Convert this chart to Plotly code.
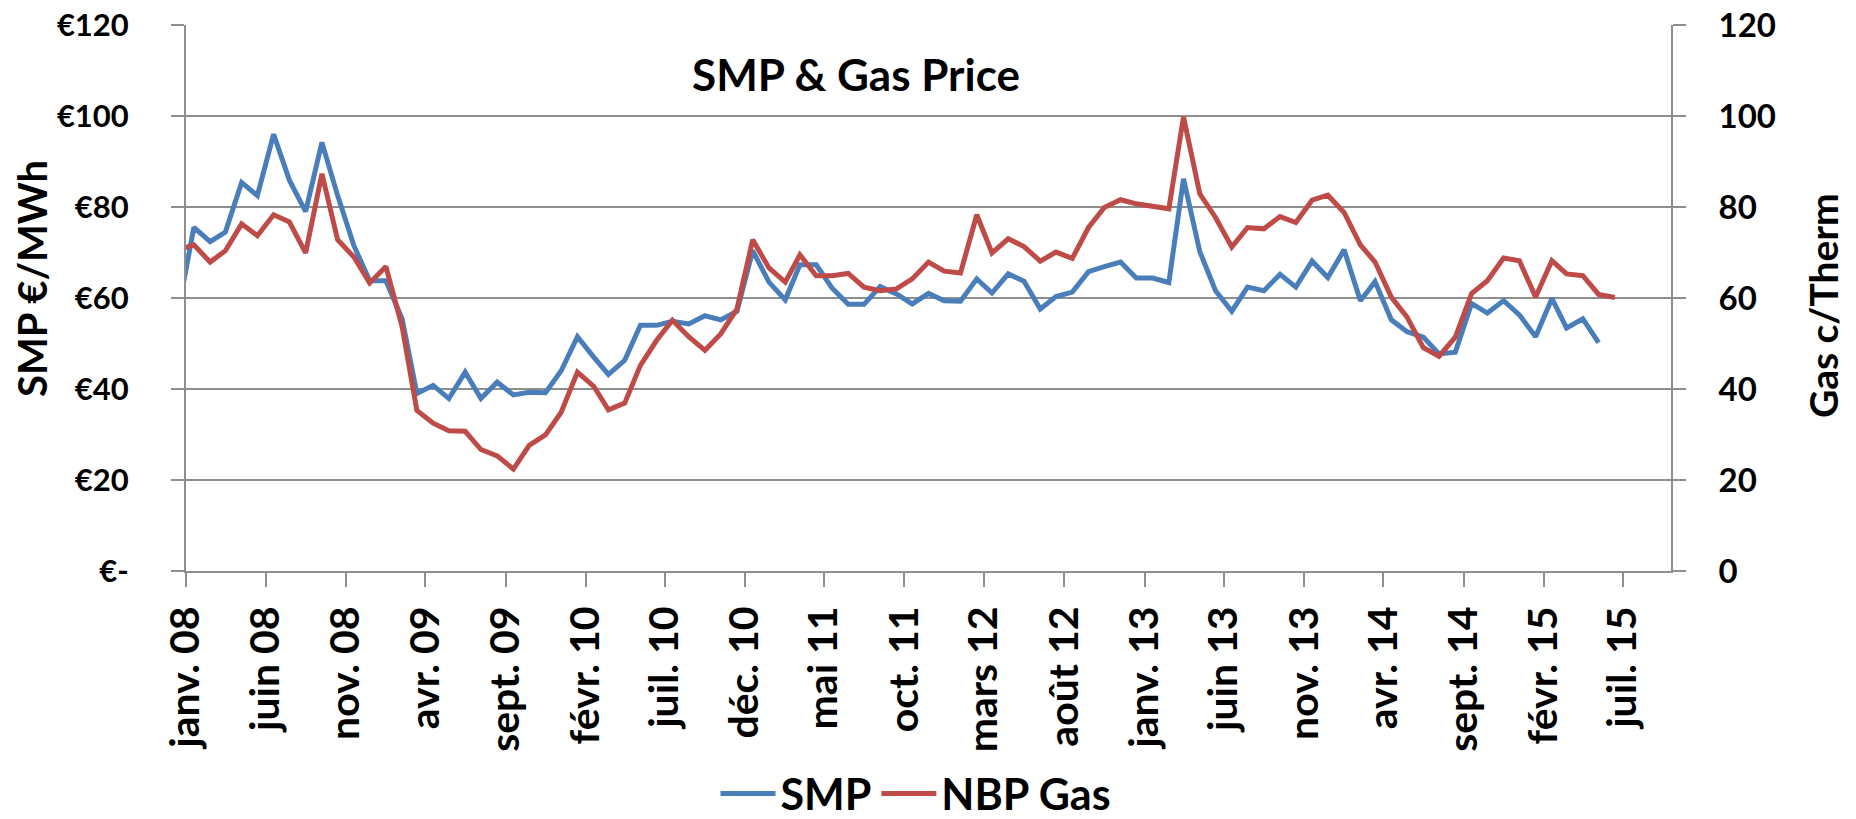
import pandas as pd
import plotly.graph_objects as go

# Monthly data, Dec 2007 .. Jun 2015 (values plotted mid-month)
months = pd.date_range("2007-12-01", periods=91, freq="MS") + pd.Timedelta(days=15)

smp = [56.5,
       75.5, 72.4, 74.5, 85.4, 82.5, 96.0, 85.9, 79.0, 94.2, 82.5, 71.5, 63.8,
       63.8, 55.4, 39.0, 40.8, 37.9, 43.7, 37.9, 41.5, 38.7, 39.3, 39.2, 44.0,
       51.5, 47.0, 43.2, 46.3, 54.0, 54.0, 54.9, 54.3, 56.1, 55.2, 57.1, 70.4,
       63.5, 59.6, 67.3, 67.3, 62.2, 58.6, 58.6, 62.5, 60.9, 58.7, 61.0, 59.4,
       59.3, 64.2, 61.1, 65.3, 63.7, 57.6, 60.3, 61.3, 65.8, 66.9, 67.9, 64.4,
       64.4, 63.4, 86.2, 70.2, 61.6, 57.1, 62.4, 61.6, 65.2, 62.4, 68.1, 64.5,
       70.6, 59.4, 63.6, 55.2, 52.6, 51.4, 47.7, 48.1, 58.8, 56.7, 59.4, 56.3,
       51.5, 59.9, 53.4, 55.4, 50.2, None]

nbp_gas = [70.5,
           71.7, 67.9, 70.4, 76.3, 73.7, 78.3, 76.7, 69.9, 87.3, 72.8, 69.0, 63.3,
           66.9, 53.6, 35.3, 32.5, 30.8, 30.7, 26.7, 25.3, 22.4, 27.6, 29.9, 34.9,
           43.7, 40.6, 35.4, 36.9, 45.2, 50.7, 55.1, 51.5, 48.5, 52.1, 57.6, 72.8,
           66.6, 63.5, 69.5, 64.9, 64.9, 65.4, 62.4, 61.6, 62.0, 64.2, 67.9, 65.9,
           65.5, 78.3, 69.9, 73.0, 71.3, 68.1, 70.1, 68.7, 75.5, 79.9, 81.6, 80.7,
           80.2, 79.6, 99.8, 82.9, 77.7, 71.2, 75.5, 75.2, 77.9, 76.6, 81.5, 82.6,
           78.8, 71.7, 67.9, 60.2, 55.8, 49.1, 47.2, 51.4, 61.0, 63.8, 68.8, 68.2,
           60.2, 68.2, 65.3, 64.9, 60.8, 60.1]

tick_dates = pd.date_range("2008-01-01", periods=19, freq="5MS")
tick_labels = ["janv. 08", "juin 08", "nov. 08", "avr. 09", "sept. 09", "févr. 10",
               "juil. 10", "déc. 10", "mai 11", "oct. 11", "mars 12", "août 12",
               "janv. 13", "juin 13", "nov. 13", "avr. 14", "sept. 14", "févr. 15",
               "juil. 15"]

left_vals = [0, 20, 40, 60, 80, 100, 120]
left_text = ["€-", "€20", "€40", "€60", "€80", "€100", "€120"]
right_text = ["0", "20", "40", "60", "80", "100", "120"]

BLUE = "#4A7EBB"
RED = "#BE4B48"
GRID = "#8E8E8E"

fig = go.Figure()
fig.add_trace(go.Scatter(x=months, y=smp, name="SMP", mode="lines",
                         line=dict(color=BLUE, width=5), yaxis="y"))
fig.add_trace(go.Scatter(x=months, y=nbp_gas, name="NBP Gas", mode="lines",
                         line=dict(color=RED, width=5), yaxis="y2"))

fig.update_layout(
    width=1856, height=819,
    paper_bgcolor="white", plot_bgcolor="white",
    font=dict(family="Lato", weight="bold", color="black", size=33),
    margin=dict(l=186, r=185, t=25, b=248, autoexpand=False),
    showlegend=True,
    legend=dict(orientation="h", x=0.4916, xanchor="center",
                yref="container", y=0.031, yanchor="middle",
                font=dict(size=43, family="Lato", weight="bold"), itemwidth=55,
                bgcolor="rgba(0,0,0,0)"),
    xaxis=dict(type="date", range=["2008-01-01", "2015-10-01"], automargin=False,
               tickmode="array", tickvals=tick_dates, ticktext=tick_labels,
               tickangle=-90, ticks="outside", ticklen=14, tickwidth=2, tickcolor=GRID,
               showline=True, linecolor=GRID, linewidth=2, showgrid=False, zeroline=False,
               ticklabeloverflow="allow",
               tickfont=dict(size=41, family="Lato", weight="bold"), ticklabelstandoff=3),
    yaxis=dict(range=[0, 120], tickmode="array", tickvals=left_vals, ticktext=left_text,
               automargin=False, ticklabeloverflow="allow",
               ticks="outside", ticklen=13, tickwidth=2, tickcolor=GRID,
               showline=True, linecolor=GRID, linewidth=2,
               showgrid=True, gridcolor=GRID, gridwidth=2, zeroline=False,
               tickfont=dict(size=31, family="Lato", weight="bold"), ticklabelstandoff=36),
    yaxis2=dict(range=[0, 120], overlaying="y", side="right", tickmode="array",
                tickvals=left_vals, ticktext=right_text, automargin=False,
                ticklabeloverflow="allow",
                ticks="outside", ticklen=13, tickwidth=2, tickcolor=GRID,
                showline=True, linecolor=GRID, linewidth=2, showgrid=False, zeroline=False,
                tickfont=dict(size=33, family="Lato", weight="bold"), ticklabelstandoff=26),
    annotations=[
        dict(text="SMP & Gas Price", xref="paper", yref="paper", x=0.451, y=0.910,
             xanchor="center", yanchor="middle", showarrow=False,
             font=dict(size=44, family="Lato", weight="bold")),
        dict(text="SMP €/MWh", xref="paper", yref="paper", x=-0.1037, y=0.535,
             xanchor="center", yanchor="middle", textangle=-90, showarrow=False,
             font=dict(size=40, family="Lato", weight="bold")),
        dict(text="Gas c/Therm", xref="paper", yref="paper", x=1.102, y=0.486,
             xanchor="center", yanchor="middle", textangle=-90, showarrow=False,
             font=dict(size=39, family="Lato", weight="bold")),
    ],
)

fig.write_html("out.html", config={"displayModeBar": False},
               post_script="document.body.style.margin='0px';")
